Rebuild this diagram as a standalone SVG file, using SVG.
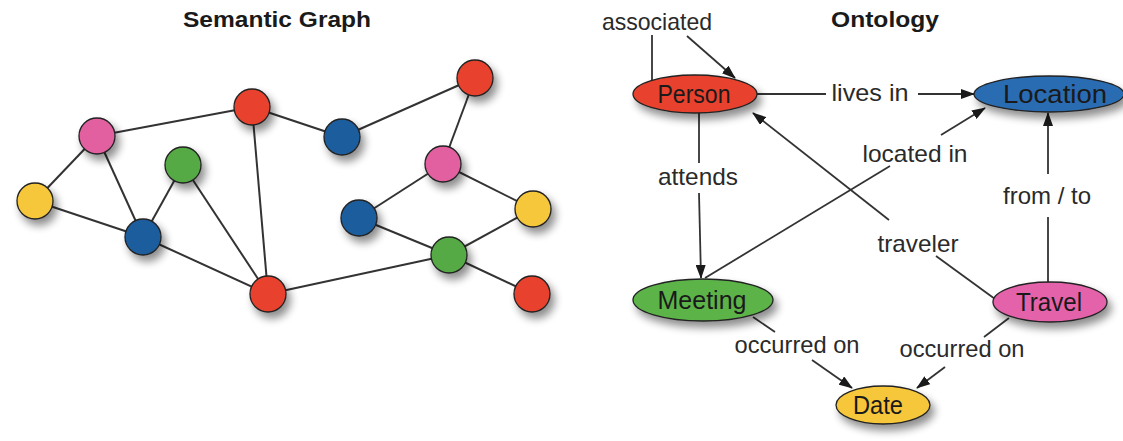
<svg xmlns="http://www.w3.org/2000/svg" width="1123" height="441" viewBox="0 0 1123 441">
  <defs>
    <filter id="drop" x="-50%" y="-50%" width="200%" height="200%">
      <feGaussianBlur in="SourceAlpha" stdDeviation="4.5"/>
      <feOffset dx="4" dy="6" result="blur"/>
      <feComponentTransfer><feFuncA type="linear" slope="0.45"/></feComponentTransfer>
      <feMerge><feMergeNode/><feMergeNode in="SourceGraphic"/></feMerge>
    </filter>
    <marker id="arrow" viewBox="0 0 14 10" refX="13" refY="5" markerWidth="14" markerHeight="10" markerUnits="userSpaceOnUse" orient="auto">
      <path d="M0,0 L14,5 L0,10 Z" fill="#1a1a1a"/>
    </marker>
    <style>
      .title { font-family: "Liberation Sans", Arial, sans-serif; font-weight: bold; font-size: 22px; fill: #1a1a1a; text-anchor: middle; }
      .lbl { font-family: "Liberation Sans", Arial, sans-serif; font-size: 24px; fill: #2a2a2a; text-anchor: middle; }
      .ntxt { font-family: "Liberation Sans", Arial, sans-serif; font-size: 25px; fill: #1a1a1a; text-anchor: middle; }
      .edge { stroke: #333; stroke-width: 2; fill: none; }
      .rel { stroke: #333; stroke-width: 1.8; fill: none; }
      .node { stroke: #222; stroke-width: 1.3; filter: url(#drop); }
      .red { fill: #e8432e; }
      .pink { fill: #e2609f; }
      .green { fill: #55aa45; }
      .blue { fill: #1f5d9e; }
      .yellow { fill: #f6c63a; }
    </style>
  </defs>
  <rect width="1123" height="441" fill="#ffffff"/>

  <!-- Left: semantic graph -->
  <text class="title" x="277" y="27" textLength="188" lengthAdjust="spacingAndGlyphs">Semantic Graph</text>

  <g id="graph-edges">
    <line class="edge" x1="97" y1="136" x2="252" y2="107"/>
    <line class="edge" x1="97" y1="136" x2="35" y2="201"/>
    <line class="edge" x1="97" y1="136" x2="143" y2="237"/>
    <line class="edge" x1="35" y1="201" x2="143" y2="237"/>
    <line class="edge" x1="143" y1="237" x2="183" y2="165"/>
    <line class="edge" x1="183" y1="165" x2="268" y2="294"/>
    <line class="edge" x1="143" y1="237" x2="268" y2="294"/>
    <line class="edge" x1="252" y1="107" x2="268" y2="294"/>
    <line class="edge" x1="252" y1="107" x2="342" y2="137"/>
    <line class="edge" x1="342" y1="137" x2="475" y2="78"/>
    <line class="edge" x1="475" y1="78" x2="443" y2="164"/>
    <line class="edge" x1="443" y1="164" x2="359" y2="218"/>
    <line class="edge" x1="443" y1="164" x2="533" y2="209"/>
    <line class="edge" x1="359" y1="218" x2="449" y2="255"/>
    <line class="edge" x1="533" y1="209" x2="449" y2="255"/>
    <line class="edge" x1="449" y1="255" x2="268" y2="294"/>
    <line class="edge" x1="449" y1="255" x2="532" y2="294"/>
  </g>

  <g id="g-pink1"><circle class="node pink" cx="97" cy="136" r="18"/></g>
  <g id="g-yellow1"><circle class="node yellow" cx="35" cy="201" r="18"/></g>
  <g id="g-green1"><circle class="node green" cx="183" cy="165" r="18"/></g>
  <g id="g-blue1"><circle class="node blue" cx="143" cy="237" r="18"/></g>
  <g id="g-red1"><circle class="node red" cx="252" cy="107" r="18"/></g>
  <g id="g-blue2"><circle class="node blue" cx="342" cy="137" r="18"/></g>
  <g id="g-red2"><circle class="node red" cx="475" cy="78" r="18"/></g>
  <g id="g-pink2"><circle class="node pink" cx="443" cy="164" r="18"/></g>
  <g id="g-blue3"><circle class="node blue" cx="359" cy="218" r="18"/></g>
  <g id="g-yellow2"><circle class="node yellow" cx="533" cy="209" r="18"/></g>
  <g id="g-green2"><circle class="node green" cx="449" cy="255" r="18"/></g>
  <g id="g-red3"><circle class="node red" cx="268" cy="294" r="18"/></g>
  <g id="g-red4"><circle class="node red" cx="532" cy="294" r="18"/></g>

  <!-- Right: ontology -->
  <text class="title" x="885" y="27" textLength="108" lengthAdjust="spacingAndGlyphs">Ontology</text>

  <g id="ontology-connectors">
    <!-- associated (self relation on Person) -->
    <line class="rel" x1="652" y1="35" x2="652" y2="80"/>
    <line class="rel" x1="687" y1="36" x2="735" y2="78" marker-end="url(#arrow)"/>
    <!-- lives in -->
    <line class="rel" x1="757" y1="94" x2="826" y2="94"/>
    <line class="rel" x1="918" y1="94" x2="974" y2="94" marker-end="url(#arrow)"/>
    <!-- attends -->
    <line class="rel" x1="699" y1="113" x2="699" y2="163"/>
    <line class="rel" x1="699" y1="193" x2="701" y2="278" marker-end="url(#arrow)"/>
    <!-- located in -->
    <line class="rel" x1="705" y1="278" x2="890" y2="166"/>
    <line class="rel" x1="941" y1="135" x2="985" y2="108" marker-end="url(#arrow)"/>
    <!-- traveler -->
    <line class="rel" x1="995" y1="299" x2="936" y2="256"/>
    <line class="rel" x1="889" y1="220" x2="753" y2="113" marker-end="url(#arrow)"/>
    <!-- from / to -->
    <line class="rel" x1="1048" y1="282" x2="1048" y2="217"/>
    <line class="rel" x1="1048" y1="174" x2="1048" y2="113" marker-end="url(#arrow)"/>
    <!-- occurred on (Meeting) -->
    <line class="rel" x1="753" y1="317" x2="775" y2="332"/>
    <line class="rel" x1="812" y1="360" x2="852" y2="388" marker-end="url(#arrow)"/>
    <!-- occurred on (Travel) -->
    <line class="rel" x1="1009" y1="318" x2="984" y2="337"/>
    <line class="rel" x1="945" y1="367" x2="917" y2="388" marker-end="url(#arrow)"/>
  </g>

  <g id="ontology-labels">
    <text class="lbl" x="657" y="30" textLength="110" lengthAdjust="spacingAndGlyphs">associated</text>
    <text class="lbl" x="870" y="101" textLength="77" lengthAdjust="spacingAndGlyphs">lives in</text>
    <text class="lbl" x="698" y="185" textLength="80" lengthAdjust="spacingAndGlyphs">attends</text>
    <text class="lbl" x="915" y="162" textLength="105" lengthAdjust="spacingAndGlyphs">located in</text>
    <text class="lbl" x="918" y="252" textLength="81" lengthAdjust="spacingAndGlyphs">traveler</text>
    <text class="lbl" x="1047" y="204" textLength="88" lengthAdjust="spacingAndGlyphs">from / to</text>
    <text class="lbl" x="797" y="353" textLength="125" lengthAdjust="spacingAndGlyphs">occurred on</text>
    <text class="lbl" x="962" y="357" textLength="125" lengthAdjust="spacingAndGlyphs">occurred on</text>
  </g>

  <g id="person">
    <ellipse class="node red" cx="695" cy="94" rx="62" ry="19"/>
    <text class="ntxt" x="694" y="103" textLength="73" lengthAdjust="spacingAndGlyphs">Person</text>
  </g>
  <g id="location">
    <ellipse class="node blue" style="fill:#2c6cb2" cx="1049" cy="94" rx="75" ry="18"/>
    <text class="ntxt" x="1055" y="103" textLength="104" lengthAdjust="spacingAndGlyphs">Location</text>
  </g>
  <g id="meeting">
    <ellipse class="node green" style="fill:#5bb44a" cx="703" cy="300" rx="70" ry="21"/>
    <text class="ntxt" x="702" y="309" textLength="89" lengthAdjust="spacingAndGlyphs">Meeting</text>
  </g>
  <g id="travel">
    <ellipse class="node pink" style="fill:#e462a9" cx="1050" cy="302" rx="57" ry="20"/>
    <text class="ntxt" x="1049" y="311" textLength="66" lengthAdjust="spacingAndGlyphs">Travel</text>
  </g>
  <g id="date">
    <ellipse class="node yellow" cx="883" cy="405" rx="47" ry="19"/>
    <text class="ntxt" x="878" y="414" textLength="50" lengthAdjust="spacingAndGlyphs">Date</text>
  </g>
</svg>
